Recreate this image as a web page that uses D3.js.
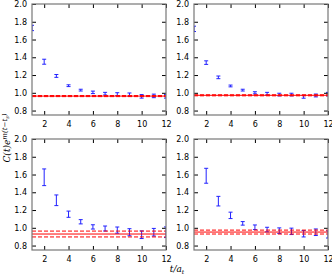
<!DOCTYPE html>
<html lang="en">
<head>
<meta charset="UTF-8">
<title>Effective mass plateaus</title>
<script src="https://d3js.org/d3.v7.min.js"></script>
<style>
  body { margin: 0; background: #fff; }
  svg { display: block; }
  .tick text { font-family: "DejaVu Sans", sans-serif; font-size: 8px; fill: #000; }
  .lbl { font-family: "DejaVu Serif", serif; font-style: italic; font-size: 9px; fill: #000; }
</style>
</head>
<body>
<svg width="332" height="277"></svg>
<script>
// time slices
const tVals = [1, 2, 3, 4, 5, 6, 7, 8, 9, 10, 11, 12];

// panel data: C(t) e^{m(t-t0)} and errors
const tlMean = [1.73, 1.35, 1.19, 1.08, 1.03, 1.005, 0.99, 0.985, 0.98, 0.96, 0.965, 0.96];
const tlErr  = [0.03, 0.028, 0.016, 0.01, 0.01, 0.014, 0.015, 0.016, 0.018, 0.02, 0.02, 0.02];
const trMean = [1.72, 1.34, 1.174, 1.077, 1.03, 1.0, 0.99, 0.98, 0.98, 0.955, 0.97, 0.985];
const trErr  = [0.03, 0.02, 0.015, 0.01, 0.01, 0.012, 0.015, 0.015, 0.015, 0.016, 0.016, 0.02];
const blMean = [2.3, 1.569, 1.31, 1.153, 1.068, 1.01, 0.992, 0.974, 0.95, 0.922, 0.95, 0.95];
const blErr  = [0.1, 0.094, 0.06, 0.035, 0.024, 0.024, 0.028, 0.035, 0.04, 0.043, 0.043, 0.06];
const brMean = [2.3, 1.586, 1.30, 1.14, 1.05, 1.006, 0.98, 0.967, 0.96, 0.933, 0.95, 0.925];
const brErr  = [0.1, 0.084, 0.054, 0.036, 0.02, 0.026, 0.026, 0.032, 0.036, 0.036, 0.037, 0.04];

// plateau fits: value and error
const fitVal = [0.963, 0.972, 0.93, 0.952];
const fitErr = [0.006, 0.006, 0.033, 0.022];

const xTicks = [2, 4, 6, 8, 10, 12];
const yTicks = [0.8, 1.0, 1.2, 1.4, 1.6, 1.8, 2.0];

const panels = [
  { mean: tlMean, err: tlErr, x0: 32, y0: 4 },
  { mean: trMean, err: trErr, x0: 194, y0: 4 },
  { mean: blMean, err: blErr, x0: 32, y0: 139 },
  { mean: brMean, err: brErr, x0: 194, y0: 139 }
];
const pw = 134, ph = 111;

const svg = d3.select("svg");

panels.forEach((p, i) => {
  const x = d3.scaleLinear().domain([1, 12]).range([0, pw]);
  const y = d3.scaleLinear().domain([0.75, 2.0]).range([ph, 0]);
  const g = svg.append("g").attr("transform", `translate(${p.x0},${p.y0})`);

  g.append("clipPath").attr("id", "clip" + i)
    .append("rect").attr("width", pw).attr("height", ph);
  const plot = g.append("g").attr("clip-path", `url(#clip${i})`);

  // data points with error bars
  const pts = tVals.map((t, k) => ({ t: t, m: p.mean[k], e: p.err[k] }));
  const eb = plot.selectAll(".eb").data(pts).join("g").attr("class", "eb");
  eb.append("line")
    .attr("x1", d => x(d.t)).attr("x2", d => x(d.t))
    .attr("y1", d => y(d.m - d.e)).attr("y2", d => y(d.m + d.e))
    .attr("stroke", "#2222ff").attr("stroke-width", 1);
  [-1, 1].forEach(s => {
    eb.append("line")
      .attr("x1", d => x(d.t) - 2).attr("x2", d => x(d.t) + 2)
      .attr("y1", d => y(d.m + s * d.e)).attr("y2", d => y(d.m + s * d.e))
      .attr("stroke", "#2222ff").attr("stroke-width", 1);
  });

  // fit band
  const fv = fitVal[i], fe = fitErr[i];
  plot.append("line")
    .attr("x1", x(1)).attr("x2", x(12))
    .attr("y1", y(fv)).attr("y2", y(fv))
    .attr("stroke", "red").attr("stroke-width", 1);
  [fv - fe, fv + fe].forEach(v => {
    plot.append("line")
      .attr("x1", x(1)).attr("x2", x(12))
      .attr("y1", y(v)).attr("y2", y(v))
      .attr("stroke", "red").attr("stroke-width", 1)
      .attr("stroke-dasharray", "4,2");
  });

  // axes, ticks pointing inward
  g.append("g").attr("transform", `translate(0,${ph})`)
    .call(d3.axisBottom(x).tickValues(xTicks).tickSize(-4).tickPadding(6).tickFormat(d3.format("d")))
    .call(a => a.select(".domain").remove());
  g.append("g")
    .call(d3.axisTop(x).tickValues(xTicks).tickSize(-4).tickFormat(""))
    .call(a => a.select(".domain").remove());
  g.append("g")
    .call(d3.axisLeft(y).tickValues(yTicks).tickSize(-4).tickPadding(5).tickFormat(d3.format(".1f")))
    .call(a => a.select(".domain").remove());
  g.append("g").attr("transform", `translate(${pw},0)`)
    .call(d3.axisRight(y).tickValues(yTicks).tickSize(-4).tickFormat(""))
    .call(a => a.select(".domain").remove());

  g.append("rect").attr("width", pw).attr("height", ph)
    .attr("fill", "none").attr("stroke", "#777").attr("stroke-width", 1.2);
});

// axis labels
const yl = svg.append("text").attr("class", "lbl")
  .attr("transform", "translate(10,138) rotate(-90)")
  .attr("text-anchor", "middle");
yl.append("tspan").text("C(t)e");
yl.append("tspan").attr("dy", -3).attr("font-size", "7px").text("m(t\u2212t");
yl.append("tspan").attr("dy", 1.5).attr("font-size", "5px").text("s");
yl.append("tspan").attr("dy", -1.5).attr("font-size", "7px").text(")");

const xl = svg.append("text").attr("class", "lbl")
  .attr("x", 177).attr("y", 272).attr("text-anchor", "middle");
xl.append("tspan").text("t/a");
xl.append("tspan").attr("dy", 2).attr("font-size", "6px").text("t");
</script>
</body>
</html>
